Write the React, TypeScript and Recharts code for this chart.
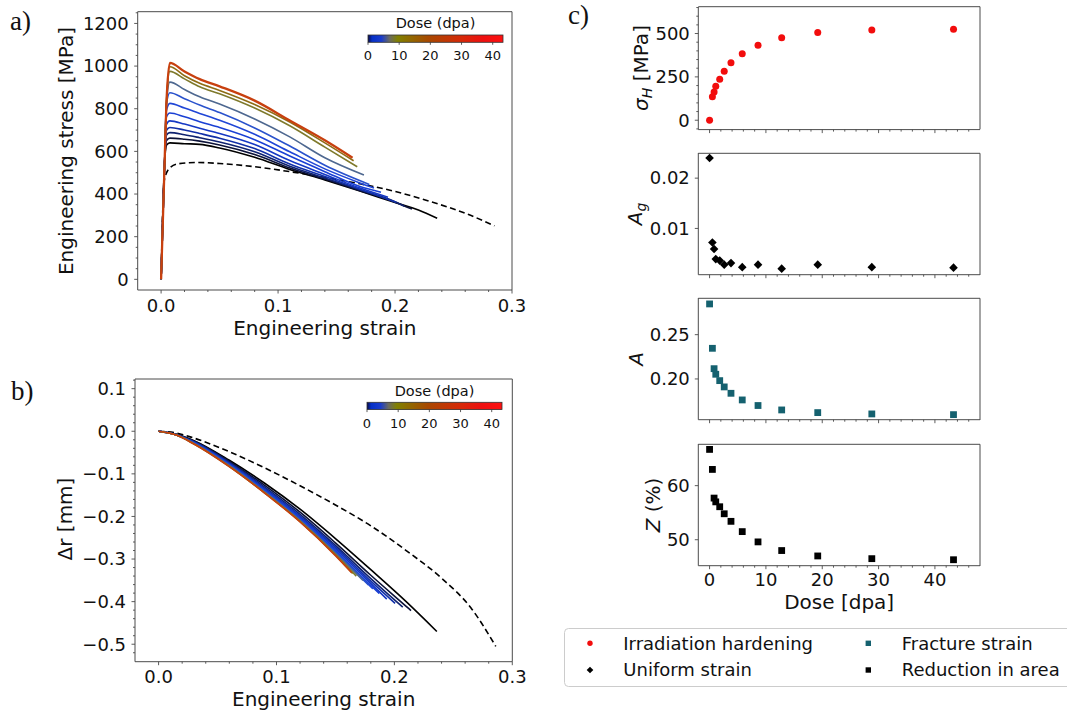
import React from "react";
import { LineChart, Line, XAxis, YAxis, ScatterChart, Scatter } from "recharts";

const FONT = "'DejaVu Sans', Verdana, sans-serif";
const SERIF = "'Liberation Serif', 'DejaVu Serif', serif";
const INK = "#111111";
const SPINE = "#4a4a4a";

// ---------- a) engineering stress vs strain (lowest dose first) ----------
const curveDoses = [0.5, 0.8, 1.1, 1.8, 2.6, 3.8, 5.8, 8.6, 12.8, 19.2, 28.8, 43.3];
const curveColors = [
  "#000000", "#0c1238", "#0f2270", "#1230a8", "#1538c4", "#1a40d4",
  "#2046d6", "#2a52cc", "#4e6890", "#7f7a2c", "#8e6c14", "#c8400f",
];
const strainGridA = [0, 0.003, 0.0045, 0.0075, 0.02, 0.033, 0.05, 0.08, 0.11, 0.14, 0.17, 0.2, 0.22];
const stress05 = [0, 546, 628, 640, 636, 633, 616, 572, 515, 466, 414, 360, 325];
const stress08 = [0, 546, 650, 662, 657, 648, 630, 585, 522, 470, 416, 362];
const stress11 = [0, 546, 675, 688, 678, 664, 644, 598, 530, 475, 420, 364];
const stress18 = [0, 546, 698, 712, 700, 684, 662, 613, 541, 482, 423];
const stress26 = [0, 546, 725, 743, 728, 708, 684, 632, 557, 492, 428];
const stress38 = [0, 546, 760, 780, 762, 739, 712, 655, 578, 505, 435];
const stress58 = [0, 546, 790, 825, 803, 778, 746, 680, 598, 518, 452];
const stress86 = [0, 546, 819, 875, 847, 817, 782, 710, 625, 535];
const stress128 = [0, 546, 819, 925, 890, 856, 822, 752, 668, 570];
const stress192 = [0, 546, 819, 975, 940, 903, 870, 803, 720, 620];
const stress288 = [0, 546, 819, 997, 955, 919, 886, 820, 738, 640];
const stress433 = [0, 546, 819, 1015, 975, 939, 905, 838, 745, 652];
const stressA = [stress05, stress08, stress11, stress18, stress26, stress38, stress58, stress86, stress128, stress192, stress288, stress433];
const endStrainA = [0.236, 0.2145, 0.208, 0.201, 0.194, 0.188, 0.182, 0.178, 0.1734, 0.1677, 0.1646, 0.1637];
const endStressA = [286, 330, 343, 362, 385, 408, 428, 445, 489, 528, 556, 570];

// unirradiated reference (dashed)
const strainRef = [0, 0.0025, 0.004, 0.008, 0.015, 0.03, 0.05, 0.08, 0.11, 0.14, 0.17, 0.2, 0.23, 0.26, 0.285];
const stressRef = [0, 455, 490, 525, 542, 548, 543, 528, 505, 478, 448, 412, 365, 310, 251];

// ---------- b) radius change vs strain ----------
const strainGridB = [0, 0.015, 0.03, 0.06, 0.09, 0.12, 0.15, 0.18, 0.21];
const dr05 = [0, -0.007, -0.022, -0.068, -0.122, -0.183, -0.252, -0.325, -0.4];
const dr08 = [0, -0.007, -0.023, -0.071, -0.127, -0.19, -0.262, -0.338, -0.411];
const dr11 = [0, -0.008, -0.024, -0.073, -0.131, -0.195, -0.268, -0.346];
const dr18 = [0, -0.008, -0.025, -0.075, -0.134, -0.199, -0.272, -0.352];
const dr26 = [0, -0.008, -0.026, -0.077, -0.137, -0.202, -0.276, -0.357];
const dr38 = [0, -0.008, -0.027, -0.078, -0.139, -0.205, -0.28, -0.362];
const dr58 = [0, -0.009, -0.028, -0.079, -0.141, -0.207, -0.283];
const dr86 = [0, -0.009, -0.028, -0.08, -0.142, -0.209, -0.285];
const dr128 = [0, -0.009, -0.029, -0.081, -0.143, -0.21, -0.287];
const dr192 = [0, -0.009, -0.029, -0.082, -0.144, -0.211, -0.289];
const dr288 = [0, -0.009, -0.03, -0.083, -0.145, -0.212, -0.291];
const dr433 = [0, -0.009, -0.03, -0.083, -0.145, -0.213, -0.292];
const drB = [dr05, dr08, dr11, dr18, dr26, dr38, dr58, dr86, dr128, dr192, dr288, dr433];
const endStrainB = [0.236, 0.2141, 0.2071, 0.2006, 0.1935, 0.1873, 0.1817, 0.178, 0.1734, 0.1677, 0.1646, 0.1637];
const endDrB = [-0.47, -0.421, -0.413, -0.404, -0.394, -0.381, -0.37, -0.361, -0.35, -0.34, -0.334, -0.332];

const strainRefB = [0, 0.015, 0.03, 0.06, 0.09, 0.12, 0.15, 0.18, 0.21, 0.24, 0.265, 0.286];
const drRef = [0, -0.004, -0.016, -0.048, -0.086, -0.128, -0.173, -0.222, -0.28, -0.345, -0.415, -0.505];

// ---------- c) properties vs dose ----------
const doses = [0, 0.5, 0.8, 1.1, 1.8, 2.6, 3.8, 5.8, 8.6, 12.8, 19.2, 28.8, 43.3];
const sigmaH = [0, 135, 163, 196, 237, 283, 331, 383, 433, 475, 506, 520, 525];
const uniformStrain = [0.024, 0.0072, 0.0059, 0.0039, 0.0036, 0.0028, 0.0031, 0.0023, 0.0028, 0.002, 0.0028, 0.0023, 0.0022];
const fractureStrain = [0.2847, 0.2346, 0.2116, 0.2053, 0.1981, 0.191, 0.1838, 0.1763, 0.17, 0.165, 0.162, 0.1605, 0.1597];
const areaReduction = [66.7, 63.0, 57.7, 57.0, 56.1, 54.8, 53.4, 51.5, 49.6, 48.0, 47.0, 46.5, 46.3];

// tick values
const strainTicks = [0, 0.1, 0.2, 0.3];
const stressTicks = [0, 200, 400, 600, 800, 1000, 1200];
const drTicks = [-0.5, -0.4, -0.3, -0.2, -0.1, 0, 0.1];
const doseTicks = [0, 10, 20, 30, 40];
const sigmaTicks = [0, 250, 500];
const agTicks = [0.01, 0.02];
const aTicks = [0.2, 0.25];
const zTicks = [50, 60];
const colorbarTicks = [0, 10, 20, 30, 40];
const colorbarMax = 43.3;

const range = (a: number, b: number, s: number) => {
  const out: number[] = [];
  for (let v = a; v <= b + s * 1e-6; v += s) out.push(Math.round(v * 1e6) / 1e6);
  return out;
};
const minorOf = (a: number, b: number, s: number, majors: number[]) =>
  range(a, b, s).filter((v) => !majors.some((m) => Math.abs(m - v) < 1e-9));

const toPts = (xs: number[], ys: number[], ex?: number, ey?: number) => {
  const pts = ys.map((y, i) => ({ x: xs[i], y }));
  if (ex !== undefined && ey !== undefined) pts.push({ x: ex, y: ey });
  return pts;
};

const fmt1 = (v: number) => (v < 0 ? "\u2212" : "") + Math.abs(v).toFixed(1);
const fmt2 = (v: number) => v.toFixed(2);
const fmtInt = (v: number) => String(v);

function tickRenderer(
  orient: "bottom" | "left",
  majors: number[],
  fmt: (v: number) => string,
  showLabel = true,
  fontSize = 18,
  gap = 5.5
) {
  return (p: any) => {
    const v: number = p.payload.value;
    const isMajor = majors.some((m) => Math.abs(m - v) < 1e-9);
    const len = isMajor ? 3.5 : 2;
    if (orient === "bottom") {
      return (
        <g>
          <line x1={p.x} x2={p.x} y1={p.y} y2={p.y + len} stroke={SPINE} strokeWidth={0.9} />
          {isMajor && showLabel ? (
            <text x={p.x} y={p.y + 3.5 + gap} dy="0.71em" textAnchor="middle" fontSize={fontSize} fill={INK} fontFamily={FONT}>
              {fmt(v)}
            </text>
          ) : null}
        </g>
      );
    }
    return (
      <g>
        <line x1={p.x} x2={p.x - len} y1={p.y} y2={p.y} stroke={SPINE} strokeWidth={0.9} />
        {isMajor && showLabel ? (
          <text x={p.x - 3.5 - gap} y={p.y} dy="0.35em" textAnchor="end" fontSize={fontSize} fill={INK} fontFamily={FONT}>
            {fmt(v)}
          </text>
        ) : null}
      </g>
    );
  };
}

function StressStrain() {
  return (
    <div style={{ position: "absolute", left: 0, top: 0 }}>
      <LineChart width={530} height={345} margin={{ top: 11.7, right: 18, bottom: 0, left: 0 }}>
        <XAxis type="number" dataKey="x" domain={[-0.02, 0.3]} allowDataOverflow
          ticks={[...strainTicks, ...minorOf(0.02, 0.28, 0.02, strainTicks)]} interval={0}
          tickLine={false} tickSize={0} tickMargin={0} height={55} axisLine={{ stroke: SPINE }}
          tick={tickRenderer("bottom", strainTicks, fmt1)} />
        <YAxis type="number" domain={[-50, 1255]} allowDataOverflow
          ticks={[...stressTicks, ...minorOf(50, 1250, 50, stressTicks)]} interval={0}
          tickLine={false} tickSize={0} tickMargin={0} width={137.7} axisLine={{ stroke: SPINE }}
          tick={tickRenderer("left", stressTicks, fmtInt)} />
        <Line data={toPts(strainRef, stressRef)} dataKey="y" type="monotone" stroke="#000" strokeWidth={1.6}
          strokeDasharray="6 3.5" dot={false} isAnimationActive={false} />
        {stressA.map((s, i) => (
          <Line key={curveDoses[i]} data={toPts(strainGridA, s, endStrainA[i], endStressA[i])} dataKey="y"
            type="monotone" stroke={curveColors[i]} strokeWidth={i === 11 ? 2.3 : 1.6} dot={false} isAnimationActive={false} />
        ))}
      </LineChart>
    </div>
  );
}

function RadiusStrain() {
  return (
    <div style={{ position: "absolute", left: 0, top: 360 }}>
      <LineChart width={530} height={346.7} margin={{ top: 19, right: 17.7, bottom: 0, left: 0 }}>
        <XAxis type="number" dataKey="x" domain={[-0.02, 0.3]} allowDataOverflow
          ticks={[...strainTicks, ...minorOf(0.02, 0.28, 0.02, strainTicks)]} interval={0}
          tickLine={false} tickSize={0} tickMargin={0} height={45} axisLine={{ stroke: SPINE }}
          tick={tickRenderer("bottom", strainTicks, fmt1)} />
        <YAxis type="number" domain={[-0.541, 0.1227]} allowDataOverflow
          ticks={[...drTicks, ...minorOf(-0.52, 0.12, 0.02, drTicks)]} interval={0}
          tickLine={false} tickSize={0} tickMargin={0} width={135} axisLine={{ stroke: SPINE }}
          tick={tickRenderer("left", drTicks, fmt1)} />
        <Line data={toPts(strainRefB, drRef)} dataKey="y" type="monotone" stroke="#000" strokeWidth={1.6}
          strokeDasharray="6 3.5" dot={false} isAnimationActive={false} />
        {drB.map((s, i) => (
          <Line key={curveDoses[i]} data={toPts(strainGridB, s, endStrainB[i], endDrB[i])} dataKey="y"
            type="monotone" stroke={curveColors[i]} strokeWidth={1.6} dot={false} isAnimationActive={false} />
        ))}
      </LineChart>
    </div>
  );
}

const redDot = (p: any) => <circle cx={p.cx} cy={p.cy} r={3.5} fill="#f20d0d" />;
const blackDiamond = (p: any) => (
  <polygon points={`${p.cx},${p.cy - 4.3} ${p.cx + 4.3},${p.cy} ${p.cx},${p.cy + 4.3} ${p.cx - 4.3},${p.cy}`} fill="#000" />
);
const tealSquare = (p: any) => <rect x={p.cx - 3.4} y={p.cy - 3.4} width={6.8} height={6.8} fill="#15616f" />;
const blackSquare = (p: any) => <rect x={p.cx - 3.4} y={p.cy - 3.4} width={6.8} height={6.8} fill="#000" />;

type DoseProps = {
  values: number[];
  domain: number[];
  ticks: number[];
  minor: number[];
  fmt: (v: number) => string;
  shape: (p: any) => React.ReactElement;
  top: number;
  bottom: number;
  last?: boolean;
};

function DosePanel({ values, domain, ticks, minor, fmt, shape, top, bottom, last }: DoseProps) {
  const axisH = last ? 40 : 10;
  const data = doses.map((d, i) => ({ d, v: values[i] }));
  return (
    <div style={{ position: "absolute", left: 600, top: top - 6 }}>
      <ScatterChart width={390} height={6 + (bottom - top) + axisH} margin={{ top: 6, right: 10, bottom: 0, left: 0 }}>
        <XAxis type="number" dataKey="d" domain={[-2, 48]} allowDataOverflow
          ticks={[...doseTicks, ...minorOf(2, 46, 2, doseTicks)]} interval={0}
          tickLine={false} tickSize={0} tickMargin={0} height={axisH} axisLine={{ stroke: SPINE }}
          tick={tickRenderer("bottom", doseTicks, fmtInt, !!last, 18, 4)} />
        <YAxis type="number" dataKey="v" domain={domain} allowDataOverflow
          ticks={[...ticks, ...minor]} interval={0}
          tickLine={false} tickSize={0} tickMargin={0} width={98.3} axisLine={{ stroke: SPINE }}
          tick={tickRenderer("left", ticks, fmt, true, 18, 5)} />
        <Scatter data={data} shape={shape} isAnimationActive={false} />
      </ScatterChart>
    </div>
  );
}

function Colorbar({ x, y }: { x: number; y: number }) {
  const w = 135;
  const h = 7.3;
  return (
    <g fontFamily={FONT} fill={INK}>
      <text x={x + w / 2} y={y - 6.7} textAnchor="middle" fontSize={14.5}>Dose (dpa)</text>
      <rect x={x} y={y} width={w} height={h} fill="url(#doseMap)" stroke="#333" strokeWidth={0.8} />
      {colorbarTicks.map((t) => {
        const tx = x + (t / colorbarMax) * w;
        return (
          <g key={t}>
            <line x1={tx} x2={tx} y1={y + h} y2={y + h + 2.5} stroke="#333" strokeWidth={0.8} />
            <text x={tx} y={y + h + 18} textAnchor="middle" fontSize={13}>{t}</text>
          </g>
        );
      })}
    </g>
  );
}

// plot-area frames (top and right spines), in page pixels
const frames = [
  [137.7, 11.7, 512, 290],
  [135, 379, 512.3, 661.7],
  [698.3, 6.7, 980, 129.3],
  [698.3, 153.3, 980, 275],
  [698.3, 298.3, 980, 420],
  [698.3, 444.3, 980, 566],
];

function Overlay() {
  return (
    <svg width={1067} height={713} style={{ position: "absolute", left: 0, top: 0, pointerEvents: "none" }}>
      <defs>
        <linearGradient id="doseMap" x1="0" x2="1" y1="0" y2="0">
          <stop offset="0" stopColor="#0a0a40" />
          <stop offset="0.03" stopColor="#0530c8" />
          <stop offset="0.1" stopColor="#1a3ccc" />
          <stop offset="0.16" stopColor="#6a6a60" />
          <stop offset="0.22" stopColor="#808000" />
          <stop offset="0.45" stopColor="#a84800" />
          <stop offset="0.7" stopColor="#d82808" />
          <stop offset="0.85" stopColor="#ee1010" />
          <stop offset="1" stopColor="#ff1010" />
        </linearGradient>
      </defs>

      {frames.map(([x1, y1, x2, y2], i) => (
        <path key={i} d={`M${x1},${y1} H${x2} V${y2}`} fill="none" stroke={SPINE} strokeWidth={1} />
      ))}

      <g fontFamily={SERIF} fontSize={27} fill={INK}>
        <text x={10} y={30}>a)</text>
        <text x={11} y={400}>b)</text>
        <text x={568} y={24}>c)</text>
      </g>

      <g fontFamily={FONT} fontSize={20} fill={INK} textAnchor="middle">
        <text x={324.9} y={335}>Engineering strain</text>
        <text transform="translate(72.6,151) rotate(-90)">Engineering stress [MPa]</text>
        <text x={323.7} y={706}>Engineering strain</text>
        <text transform="translate(72,519) rotate(-90)">Δr [mm]</text>
        <text x={839.2} y={608.6}>Dose [dpa]</text>
        <text transform="translate(648,68) rotate(-90)">
          <tspan fontStyle="italic">σ</tspan>
          <tspan fontStyle="italic" fontSize={14} dy={4}>H</tspan>
          <tspan dy={-4}> [MPa]</tspan>
        </text>
        <text transform="translate(641.6,214) rotate(-90)">
          <tspan fontStyle="italic">A</tspan>
          <tspan fontStyle="italic" fontSize={14} dy={4}>g</tspan>
        </text>
        <text transform="translate(643,359) rotate(-90)" fontStyle="italic">A</text>
        <text transform="translate(660,505) rotate(-90)">
          <tspan fontStyle="italic">Z</tspan>
          <tspan> (%)</tspan>
        </text>
      </g>

      <Colorbar x={368} y={35} />
      <Colorbar x={367} y={402.3} />

      <g fontFamily={FONT} fontSize={18} fill={INK}>
        <rect x={564.5} y={628.5} width={520} height={58} rx={4} fill="#ffffff" stroke="#cccccc" />
        <circle cx={590} cy={643.3} r={2.7} fill="#f20d0d" />
        <text x={623.3} y={643.3} dy="0.35em">Irradiation hardening</text>
        <polygon points="590,666.7 593.3,670 590,673.3 586.7,670" fill="#000" />
        <text x={623.3} y={670} dy="0.35em">Uniform strain</text>
        <rect x={865.6} y={640.6} width={5.4} height={5.4} fill="#15616f" />
        <text x={901.7} y={643.3} dy="0.35em">Fracture strain</text>
        <rect x={865.6} y={667.3} width={5.4} height={5.4} fill="#000" />
        <text x={901.7} y={670} dy="0.35em">Reduction in area</text>
      </g>
    </svg>
  );
}

export default function App() {
  return (
    <div style={{ position: "absolute", left: 0, top: 0, width: 1067, height: 713, overflow: "hidden", background: "#fff", fontFamily: FONT }}>
      <StressStrain />
      <RadiusStrain />
      <DosePanel values={sigmaH} domain={[-54, 653]} ticks={sigmaTicks} minor={minorOf(-50, 650, 50, sigmaTicks)}
        fmt={fmtInt} shape={redDot} top={6.7} bottom={129.3} />
      <DosePanel values={uniformStrain} domain={[0.0008, 0.025]} ticks={agTicks} minor={[]}
        fmt={fmt2} shape={blackDiamond} top={153.3} bottom={275} />
      <DosePanel values={fractureStrain} domain={[0.154, 0.2914]} ticks={aTicks} minor={[]}
        fmt={fmt2} shape={tealSquare} top={298.3} bottom={420} />
      <DosePanel values={areaReduction} domain={[45.2, 67.7]} ticks={zTicks} minor={[]}
        fmt={fmtInt} shape={blackSquare} top={444.3} bottom={566} last />
      <Overlay />
    </div>
  );
}
